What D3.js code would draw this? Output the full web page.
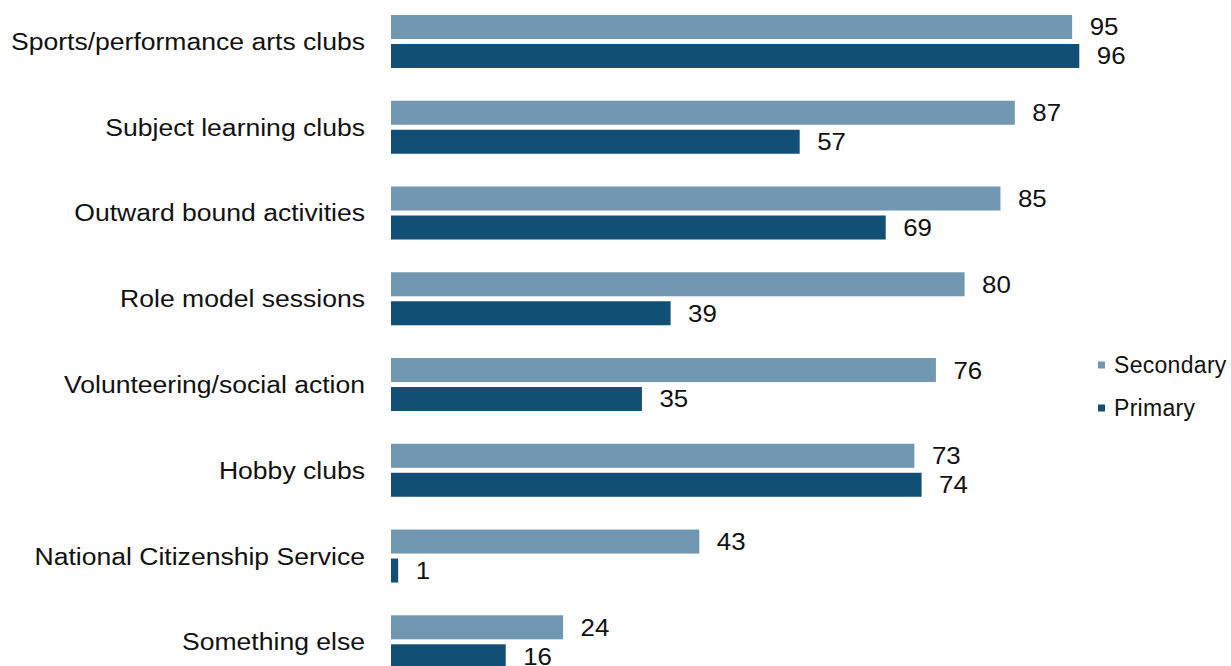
<!DOCTYPE html>
<html>
<head>
<meta charset="utf-8">
<script src="https://cdn.jsdelivr.net/npm/d3@7"></script>
<style>
  html, body { margin: 0; padding: 0; background: #fff; }
  svg { display: block; font-family: "Liberation Sans", Arial, sans-serif; }
</style>
</head>
<body>
<svg id="chart" width="1231" height="666"></svg>
<script>
const categories = [
  "Sports/performance arts clubs",
  "Subject learning clubs",
  "Outward bound activities",
  "Role model sessions",
  "Volunteering/social action",
  "Hobby clubs",
  "National Citizenship Service",
  "Something else"
];
const seriesNames = ["Secondary", "Primary"];
const secondaryValues = [95, 87, 85, 80, 76, 73, 43, 24];
const primaryValues = [96, 57, 69, 39, 35, 74, 1, 16];
const seriesColors = ["#7297b0", "#124f74"];

const svg = d3.select("#chart");
const values = [secondaryValues, primaryValues];

const x = d3.scaleLinear().domain([0, 96]).range([391, 1079.3]);
const y = d3.scaleBand().domain(categories).range([15, 668.3]).paddingInner(0.382).paddingOuter(0);
const ySub = d3.scaleBand().domain(seriesNames).range([0, y.bandwidth()]).paddingInner(0.172);

const rows = [];
categories.forEach((c, i) => {
  seriesNames.forEach((s, j) => {
    rows.push({ cat: c, series: s, value: values[j][i], color: seriesColors[j] });
  });
});

svg.append("g").selectAll("rect")
  .data(rows)
  .join("rect")
  .attr("x", x(0))
  .attr("y", d => y(d.cat) + ySub(d.series))
  .attr("width", d => x(d.value) - x(0))
  .attr("height", ySub.bandwidth())
  .attr("fill", d => d.color);

// Value labels
svg.append("g").selectAll("text")
  .data(rows)
  .join("text")
  .attr("transform", d => `translate(${x(d.value) + 17.5},${y(d.cat) + ySub(d.series) + ySub.bandwidth() / 2}) scale(1.1,1)`)
  .attr("dy", "0.36em")
  .attr("font-size", 23.5)
  .attr("fill", "#111")
  .text(d => d.value);

// Category axis (no line/ticks)
const yAxis = d3.axisLeft(y).tickSize(0).tickPadding(0);
const gy = svg.append("g").attr("transform", `translate(365,0)`).call(yAxis);
gy.select(".domain").remove();
gy.selectAll(".tick text")
  .attr("x", null)
  .attr("transform", "scale(1.13,1)")
  .attr("font-size", 23.5)
  .attr("font-family", "'Liberation Sans', Arial, sans-serif")
  .attr("fill", "#111")
  .attr("dy", "0.36em");

// Legend
const legend = svg.append("g");
const legendY = [365, 408];
seriesNames.forEach((s, j) => {
  legend.append("rect")
    .attr("x", 1098).attr("y", legendY[j] - 3.5)
    .attr("width", 7).attr("height", 7)
    .attr("fill", seriesColors[j]);
  legend.append("text")
    .attr("x", 1114).attr("y", legendY[j])
    .attr("dy", "0.36em")
    .attr("font-size", 23)
    .attr("letter-spacing", 0.3)
    .attr("fill", "#111")
    .text(s);
});
</script>
</body>
</html>
